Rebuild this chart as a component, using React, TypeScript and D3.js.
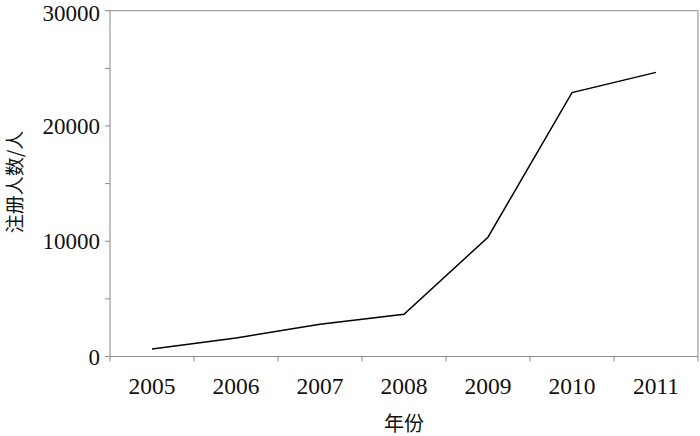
import React from "react";
import * as d3 from "d3";

const years = ["2005", "2006", "2007", "2008", "2009", "2010", "2011"];
const registrants = [650, 1600, 2800, 3660, 10350, 22900, 24650];
const yTicks = [0, 10000, 20000, 30000];
const yMinorTicks = [5000, 15000, 25000];
const xTitle = "年份";
const yTitle = "注册人数/人";

const W = 700, H = 436;
const left = 110, right = 698, top = 10.7, bottom = 356.5;
const axisColor = "#8a8a8a";
const serif = "'Liberation Serif', 'DejaVu Serif', serif";
const cjk = "'Noto Sans CJK SC', sans-serif";

export default function App() {
  const x = d3.scaleBand<string>().domain(years).range([left, right]).padding(0);
  const y = d3.scaleLinear().domain([0, 30000]).range([bottom, top]);
  const line = d3
    .line<number>()
    .x((_, i) => (x(years[i]) as number) + x.bandwidth() / 2)
    .y((d) => y(d));
  const boundaries = [...years.map((c) => x(c) as number), right];

  return (
    <svg width={W} height={H} style={{ position: "absolute", left: 0, top: 0, background: "#fff" }}>
      {/* frame */}
      <rect x={left} y={y(30000)} width={right - left} height={bottom - y(30000)} fill="none" stroke={axisColor} strokeWidth={1} />
      {/* y ticks */}
      {yTicks.map((t) => (
        <g key={t}>
          <line x1={left - 5} x2={left} y1={y(t)} y2={y(t)} stroke={axisColor} />
          <text
            x={100}
            y={Math.max(y(t), 13)}
            dy="0.35em"
            textAnchor="end"
            fontFamily={serif}
            fontSize={23}
            fill="#111"
          >
            {t}
          </text>
        </g>
      ))}
      {yMinorTicks.map((t) => (
        <line key={t} x1={left - 5} x2={left} y1={y(t)} y2={y(t)} stroke={axisColor} />
      ))}
      {/* x ticks */}
      {boundaries.map((b, i) => (
        <line key={i} x1={b} x2={b} y1={bottom} y2={bottom + 5} stroke={axisColor} />
      ))}
      {years.map((c) => (
        <text key={c} x={(x(c) as number) + x.bandwidth() / 2} y={394} textAnchor="middle" fontFamily={serif} fontSize={23.5} fill="#111">
          {c}
        </text>
      ))}
      {/* line */}
      <path d={line(registrants) || ""} fill="none" stroke="#000" strokeWidth={1.5} />
      {/* titles */}
      <text x={(left + right) / 2} y={431} textAnchor="middle" fontFamily={cjk} fontSize={20} fill="#111">
        {xTitle}
      </text>
      <text
        transform={`translate(22, ${182}) rotate(-90)`}
        textAnchor="middle"
        fontFamily={cjk}
        fontSize={19}
        fill="#111"
      >
        {yTitle}
      </text>
    </svg>
  );
}
